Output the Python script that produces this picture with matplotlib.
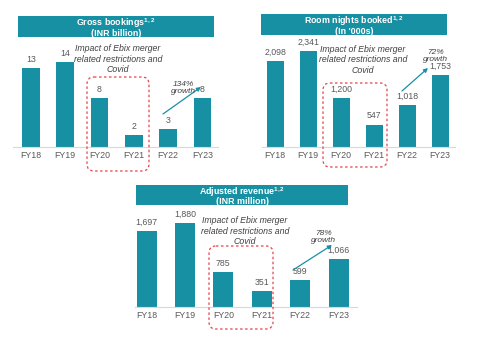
import matplotlib.pyplot as plt
from matplotlib.patches import Rectangle, FancyBboxPatch

plt.rcParams['font.family'] = ['Liberation Sans', 'DejaVu Sans']
plt.rcParams['mathtext.fontset'] = 'custom'
plt.rcParams['mathtext.rm'] = 'Liberation Sans:bold'
plt.rcParams['mathtext.bf'] = 'Liberation Sans:bold'

# data
years = ['FY18', 'FY19', 'FY20', 'FY21', 'FY22', 'FY23']
gross_bookings = [13, 14, 8, 2, 3, 8]
room_nights = [2098, 2341, 1200, 547, 1018, 1753]
adj_revenue = [1697, 1880, 785, 351, 599, 1066]
gross_labels = ['13', '14', '8', '2', '3', '8']
room_labels = ['2,098', '2,341', '1,200', '547', '1,018', '1,753']
rev_labels = ['1,697', '1,880', '785', '351', '599', '1,066']
titles = [('Gross bookings$^{1,2}$', '(INR billion)'),
          ('Room nights booked$^{1,2}$', '(In \'000s)'),
          ('Adjusted revenue$^{1,2}$', '(INR million)')]
growth = ['134%\ngrowth', '72%\ngrowth', '78%\ngrowth']

W, H = 495, 341
teal = '#1890a3'
grey = '#595959'

fig = plt.figure(figsize=(W / 100, H / 100), dpi=100)


def rect(left, right, top, bottom):
    return [left / W, 1 - bottom / H, (right - left) / W, (bottom - top) / H]


def bar_panel(pos, vals, labels, ymax, xlim):
    ax = fig.add_axes(pos)
    ax.bar(range(len(vals)), vals, width=0.52, color=teal)
    for i, (v, s) in enumerate(zip(vals, labels)):
        ax.annotate(s, (i, v), xytext=(0, 3), textcoords='offset points',
                    ha='center', va='bottom', fontsize=6.3, color=grey)
    ax.set_ylim(0, ymax)
    ax.set_xlim(*xlim)
    ax.set_xticks(range(len(years)))
    ax.set_xticklabels(years, fontsize=6.3, color=grey)
    ax.tick_params(axis='x', length=0, pad=3)
    ax.set_yticks([])
    for s in ['top', 'left', 'right']:
        ax.spines[s].set_visible(False)
    ax.spines['bottom'].set_color('#d9d9d9')
    ax.spines['bottom'].set_linewidth(0.8)
    return ax


bar_panel(rect(13, 218, 37, 147), gross_bookings, gross_labels, 18.1, (-0.52, 5.45))
bar_panel(rect(262, 455, 35, 147), room_nights, room_labels, 2731, (-0.4, 5.45))
bar_panel(rect(135, 357, 205, 307), adj_revenue, rev_labels, 2283, (-0.3, 5.48))

# overlay for banners, boxes and arrows (pixel coordinates)
ov = fig.add_axes([0, 0, 1, 1])
ov.set_xlim(0, W)
ov.set_ylim(H, 0)
ov.axis('off')

banners = [(18, 214, 16, 37), (261, 447, 14, 35), (136, 348, 185, 205)]
for (l, r, t, b), (line1, line2) in zip(banners, titles):
    ov.add_patch(Rectangle((l, t), r - l, b - t, color=teal, lw=0))
    ov.text((l + r) / 2, t + 5, line1, ha='center', va='center_baseline',
            color='white', fontsize=6.4, fontweight='bold')
    ov.text((l + r) / 2, t + 16, line2, ha='center', va='center_baseline',
            color='white', fontsize=6.4, fontweight='bold')

impact = 'Impact of Ebix merger\nrelated restrictions and\nCovid'
notes = [(118, 59), (363, 60), (245, 231)]
for x, y in notes:
    ov.text(x, y, impact, ha='center', va='center', fontsize=6.3,
            style='italic', color='#404040', linespacing=1.15)

boxes = [(87, 149, 77, 171), (323, 387, 83, 167), (209, 273, 246, 329)]
for l, r, t, b in boxes:
    ov.add_patch(FancyBboxPatch((l, t), r - l, b - t,
                                boxstyle='round,pad=0,rounding_size=7',
                                fill=False, ec='#e8434c', lw=0.9, ls=(0, (2, 2))))

arrows = [((163, 114), (201, 87)), ((402, 91), (428, 68)), ((293, 270), (332, 245))]
gtext = [(183, 88), (435, 56), (323, 237)]
for (p0, p1), (tx, ty), g in zip(arrows, gtext, growth):
    ov.annotate('', xy=p1, xytext=p0,
                arrowprops=dict(arrowstyle='-|>', color=teal, lw=0.9,
                                mutation_scale=6, shrinkA=0, shrinkB=0))
    ov.text(tx, ty, g, ha='center', va='center', fontsize=6,
            style='italic', color='#404040', linespacing=1.1)

fig.savefig('out.png', dpi=100)
